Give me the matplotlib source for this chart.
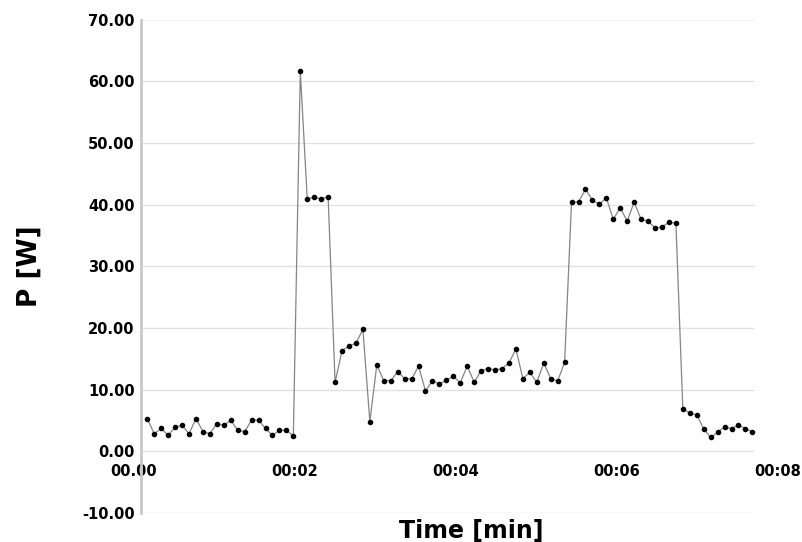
import matplotlib
matplotlib.use("Agg")
import matplotlib.pyplot as plt
import numpy as np

# power samples [W]
power = [5.3, 2.85, 3.7, 2.6, 3.9, 4.2, 2.85, 5.3, 3.2, 2.85,
         4.5, 4.2, 5.05, 3.4, 3.2, 5.05, 5.05, 3.7, 2.6, 3.4,
         3.4, 2.5, 61.6, 40.9, 41.2, 40.9, 41.3, 11.2, 16.3, 17.1,
         17.5, 19.8, 4.8, 14.0, 11.45, 11.45, 12.9, 11.8, 11.7, 13.8,
         9.8, 11.45, 10.9, 11.55, 12.15, 11.1, 13.8, 11.2, 13.05, 13.4,
         13.2, 13.4, 14.3, 16.6, 11.8, 12.8, 11.2, 14.3, 11.8, 11.4,
         14.4, 40.4, 40.4, 42.5, 40.7, 40.05, 41.1, 37.6, 39.5, 37.3,
         40.4, 37.6, 37.3, 36.2, 36.4, 37.1, 37.0, 6.9, 6.2, 5.9,
         3.65, 2.25, 3.05, 4.0, 3.65, 4.3, 3.65, 3.2]
t_start = 0.165    # min, first sample
t_step = 0.0864    # min, sampling interval
t = t_start + t_step * np.arange(len(power))

xticks = [0, 2, 4, 6, 8]
xticklabels = ["00.00", "00:02", "00:04", "00:06", "00:08"]
yticks = [-10, 0, 10, 20, 30, 40, 50, 60, 70]

fig = plt.figure(figsize=(8.03, 5.42), dpi=100)
ax = fig.add_axes([134/803, 1-513/542, 644/803, 493.5/542])
ax.set_xlim(0, 8)
ax.set_ylim(-10, 70)

x_axis_left = 0.087
x_grid_end = 7.70
ax.hlines(yticks[:-1], x_axis_left, x_grid_end, color="#e2e2e2", lw=1, zorder=1)
ax.hlines(yticks[-1], x_axis_left, x_grid_end, color="#f2f2f2", lw=1, zorder=1)

ax.plot(t, power, color="#858585", lw=0.9, marker="o", ms=3,
        mfc="black", mec="black", zorder=3)

for s in ["top", "right"]:
    ax.spines[s].set_visible(False)
ax.spines["bottom"].set_position(("data", 0))
ax.spines["bottom"].set_visible(False)
ax.spines["left"].set_position(("data", x_axis_left))
ax.spines["left"].set_color("#c8c8c8")
ax.spines["left"].set_linewidth(2)

ax.set_xticks(xticks)
ax.set_xticklabels(xticklabels, fontsize=10.5, fontweight="bold")
ax.set_yticks(yticks)
ax.set_yticklabels(["%.2f" % v for v in yticks], fontsize=10.5, fontweight="bold")
ax.tick_params(axis="x", length=0, pad=9)
ax.tick_params(axis="y", length=0, pad=4.5)

fig.text(30/803, 1-266/542, "P [W]", rotation=90, fontsize=19,
         fontweight="bold", ha="center", va="center")
fig.text(471/803, 1-538/542, "Time [min]", fontsize=17,
         fontweight="bold", ha="center", va="baseline")

fig.savefig("out.png", dpi=100)
